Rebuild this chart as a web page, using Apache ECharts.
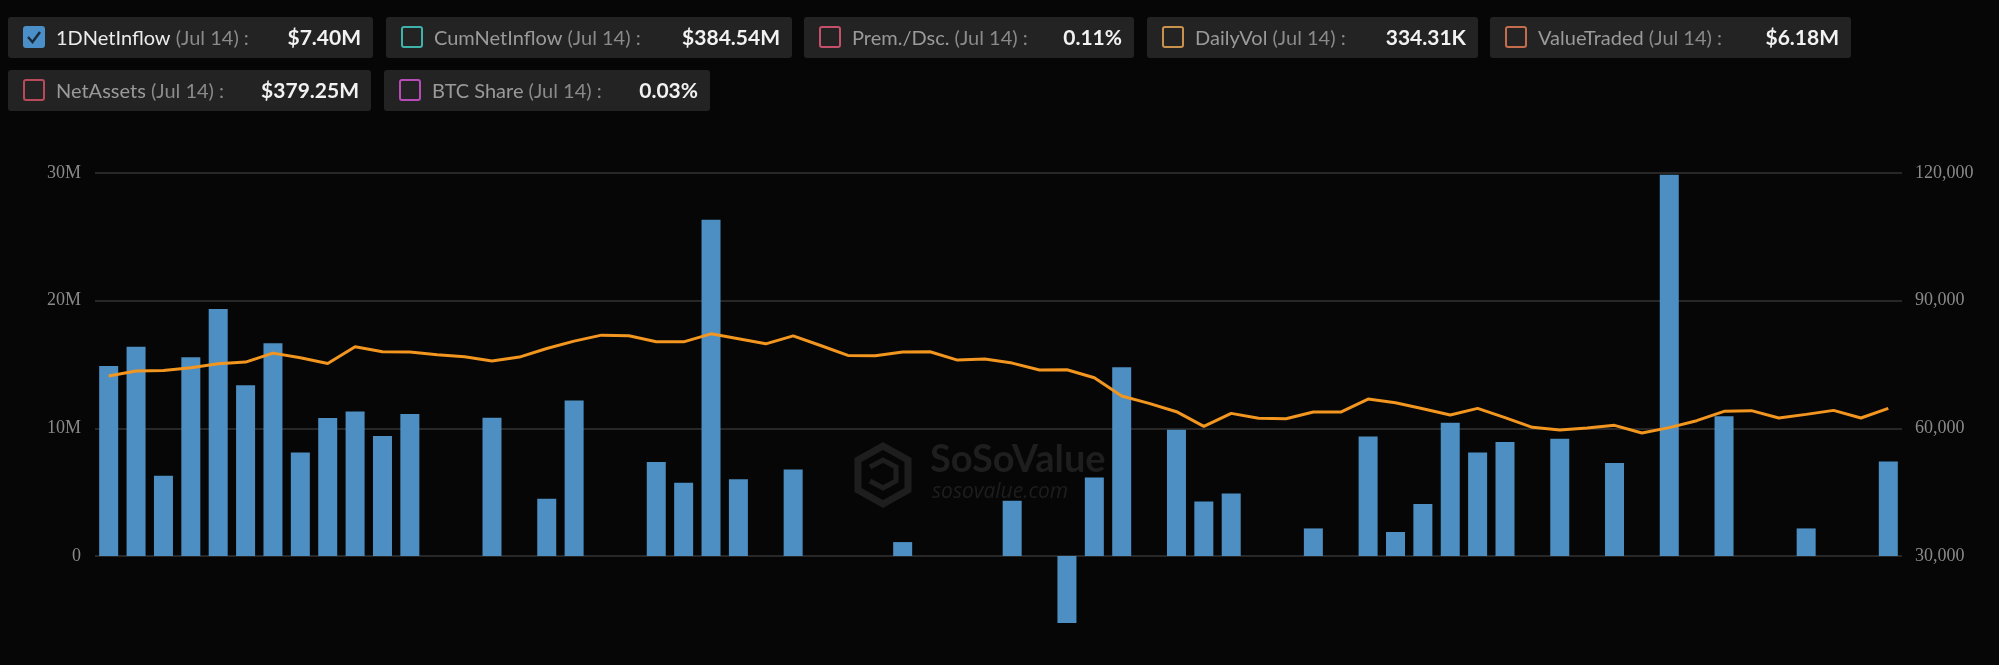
<!DOCTYPE html>
<html>
<head>
<meta charset="utf-8">
<script src="https://cdn.jsdelivr.net/npm/echarts@6/dist/echarts.min.js"></script>
<style>
  html, body { margin: 0; padding: 0; background: #060606; }
  #chart { width: 1999px; height: 665px; }
</style>
</head>
<body>
<div id="chart"></div>
<script>
// trading days, Apr 8 -> Jul 14
const dates = [
  'Apr 8', 'Apr 9', 'Apr 10', 'Apr 11', 'Apr 14', 'Apr 15', 'Apr 16', 'Apr 17', 'Apr 21', 'Apr 22',
  'Apr 23', 'Apr 24', 'Apr 25', 'Apr 28', 'Apr 29', 'Apr 30', 'May 1', 'May 2', 'May 5', 'May 6',
  'May 7', 'May 8', 'May 9', 'May 12', 'May 13', 'May 14', 'May 15', 'May 16', 'May 19', 'May 20',
  'May 21', 'May 22', 'May 23', 'May 27', 'May 28', 'May 29', 'May 30', 'Jun 2', 'Jun 3', 'Jun 4',
  'Jun 5', 'Jun 6', 'Jun 9', 'Jun 10', 'Jun 11', 'Jun 12', 'Jun 13', 'Jun 16', 'Jun 17', 'Jun 18',
  'Jun 20', 'Jun 23', 'Jun 24', 'Jun 25', 'Jun 26', 'Jun 27', 'Jun 30', 'Jul 1', 'Jul 2', 'Jul 3',
  'Jul 7', 'Jul 8', 'Jul 9', 'Jul 10', 'Jul 11', 'Jul 14',
];

// 1D net inflow, millions of USD
const netInflow = [
  14.89, 16.39, 6.28, 15.57, 19.35, 13.38, 16.67, 8.11, 10.80, 11.32,
  9.39, 11.13, 0, 0, 10.82, 0, 4.48, 12.18, 0, 0,
  7.36, 5.74, 26.34, 6.02, 0, 6.78, 0, 0, 0, 1.09,
  0, 0, 0, 4.33, 0, -5.24, 6.15, 14.79, 0, 9.88,
  4.27, 4.90, 0, 0, 2.16, 0, 9.36, 1.88, 4.07, 10.43,
  8.11, 8.92, 0, 9.18, 0, 7.28, 0, 29.86, 0, 10.95,
  0, 0, 2.16, 0, 0, 7.40,
];

// orange line, right axis
const lineValues = [
  72280, 73450, 73610, 74230, 75170, 75560, 77670, 76580, 75250, 79160,
  77990, 77910, 77280, 76810, 75800, 76740, 78770, 80490, 81900, 81740,
  80330, 80330, 82210, 81040, 79860, 81740, 79470, 77130, 77050, 77950,
  77990, 76030, 76270, 75330, 73690, 73760, 71890, 67590, 65870, 63910,
  60470, 63520, 62350, 62270, 63830, 63830, 66880, 66020, 64610, 63130,
  64690, 62500, 60240, 59610, 60080, 60700, 58910, 60160, 61800, 63990,
  64150, 62420, 63280, 64220, 62420, 64690,
];

const legendNames = ['1DNetInflow', 'CumNetInflow', 'Prem./Dsc.', 'DailyVol', 'ValueTraded', 'NetAssets', 'BTC Share'];
const legendValues = ['$7.40M', '$384.54M', '0.11%', '334.31K', '$6.18M', '$379.25M', '0.03%'];
const legendDate = 'Jul 14';

// box layout: x, y, width
const boxes = [
  [8, 17, 365], [386, 17, 406], [804, 17, 330], [1147, 17, 331], [1490, 17, 361],
  [8, 70, 363], [384, 70, 326],
];
const boxColors = ['#4a8fc7', '#3fb2ac', '#c4506a', '#c8924c', '#c56c4c', '#b94a5c', '#b84bb8'];

const chart = echarts.init(document.getElementById('chart'));

const legendGraphics = legendNames.map((name, i) => {
  const [x, y, w] = boxes[i];
  const h = 41;
  const checked = i === 0;
  const children = [
    { type: 'rect', shape: { x: 0, y: 0, width: w, height: h, r: 3 }, style: { fill: '#232323' } },
    {
      type: 'rect',
      shape: { x: 16, y: 10, width: 20, height: 20, r: 2 },
      style: { fill: checked ? boxColors[i] : 'transparent', stroke: boxColors[i], lineWidth: 2 },
    },
    {
      type: 'text',
      x: 48,
      y: h / 2 + 1,
      style: {
        text: '{n|' + name + '}{d| (' + legendDate + ') :}',
        verticalAlign: 'middle',
        rich: {
          n: { fill: checked ? '#ececec' : '#9a9a9a', fontFamily: 'Lato', fontSize: 20 },
          d: { fill: '#8a8a8a', fontFamily: 'Lato', fontSize: 20 },
        },
      },
    },
    {
      type: 'text',
      x: w - 12,
      y: h / 2 + 1,
      style: {
        text: legendValues[i],
        align: 'right',
        verticalAlign: 'middle',
        fill: '#f2f2f2',
        fontFamily: 'Lato',
        fontWeight: 'bold',
        fontSize: 21,
      },
    },
  ];
  if (checked) {
    children.push({
      type: 'polyline',
      shape: { points: [[20, 20], [24.5, 25], [32, 15]] },
      style: { stroke: '#1a2a3a', lineWidth: 2.5, fill: null },
    });
  }
  return { type: 'group', x, y, children };
});

const watermark = {
  type: 'group',
  x: 855,
  y: 443,
  z: -10,
  children: [
    {
      type: 'polygon',
      shape: { points: [[28, 3], [53, 17], [53, 47], [28, 61], [3, 47], [3, 17]] },
      style: { fill: null, stroke: '#1e1e1e', lineWidth: 7 },
    },
    {
      type: 'polyline',
      shape: { points: [[15, 24], [28, 17], [41, 24], [41, 38], [28, 45], [15, 38]] },
      style: { fill: null, stroke: '#1e1e1e', lineWidth: 5 },
    },
    {
      type: 'text',
      x: 75,
      y: 36,
      style: { text: 'SoSoValue', fill: '#1e1e1e', fontFamily: 'Lato', fontWeight: 'bold', fontSize: 38, verticalAlign: 'bottom' },
    },
    {
      type: 'text',
      x: 77,
      y: 60,
      style: { text: 'sosovalue.com', fill: '#1e1e1e', fontFamily: 'Open Sans', fontStyle: 'italic', fontSize: 21, verticalAlign: 'bottom' },
    },
  ],
};

chart.setOption({
  backgroundColor: '#060606',
  animation: false,
  graphic: [watermark, ...legendGraphics],
  grid: { left: 95, right: 97, top: 173, bottom: 109, containLabel: false },
  xAxis: {
    type: 'category',
    data: dates,
    boundaryGap: true,
    axisLine: { show: false },
    axisTick: { show: false },
    axisLabel: { show: false },
  },
  yAxis: [
    {
      type: 'value',
      min: 0,
      max: 30,
      interval: 10,
      axisLine: { show: false },
      axisTick: { show: false },
      splitLine: { lineStyle: { color: '#333333', width: 1.5 } },
      axisLabel: {
        color: '#8a8a8a',
        fontFamily: 'Liberation Serif',
        fontSize: 18,
        margin: 14,
        formatter: (v) => (v === 0 ? '0' : v + 'M'),
      },
    },
    {
      type: 'value',
      min: 30000,
      max: 120000,
      interval: 30000,
      axisLine: { show: false },
      axisTick: { show: false },
      splitLine: { show: false },
      axisLabel: {
        color: '#8a8a8a',
        fontFamily: 'Liberation Serif',
        fontSize: 18,
        margin: 13,
        formatter: (v) => v.toLocaleString('en-US'),
      },
    },
  ],
  series: [
    {
      name: '1DNetInflow',
      type: 'bar',
      data: netInflow,
      barWidth: 19,
      clip: false,
      itemStyle: { color: '#4d8fc2' },
    },
    {
      name: 'Price',
      type: 'line',
      yAxisIndex: 1,
      data: lineValues,
      showSymbol: false,
      z: 5,
      lineStyle: { color: '#f39620', width: 3 },
    },
  ],
});
</script>
</body>
</html>
